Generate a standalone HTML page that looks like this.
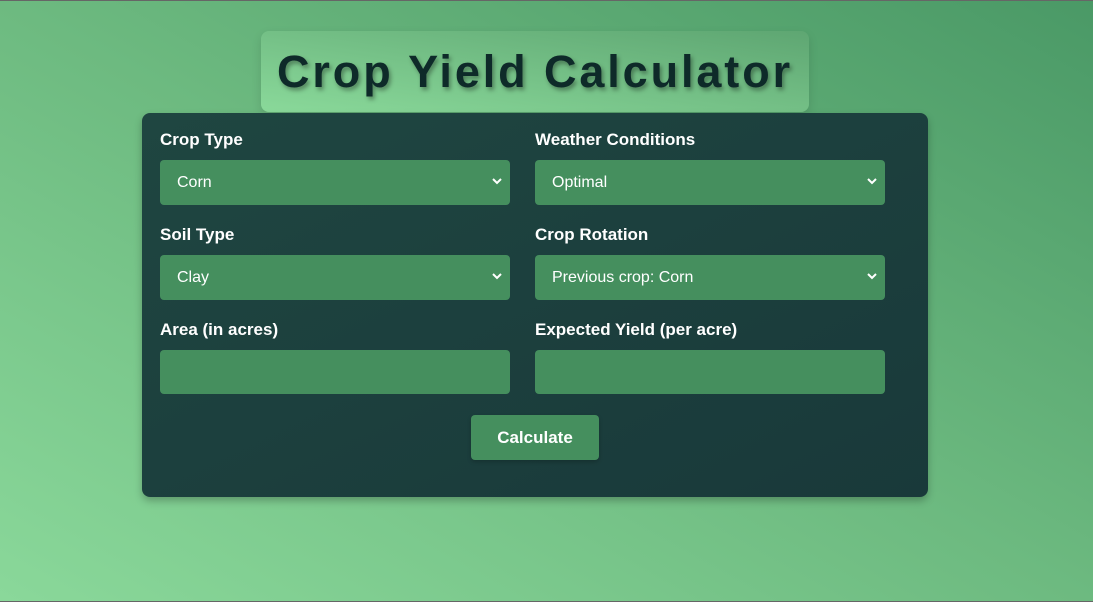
<!DOCTYPE html>
<html><head><meta charset="utf-8"><style>
*{box-sizing:border-box;margin:0;padding:0}
html,body{width:1093px;height:602px;overflow:hidden}
body{font-family:"Liberation Sans",Arial,sans-serif;background:linear-gradient(to top right,#8ad89a 0%,#6dba80 50%,#4a9966 100%);position:relative}
.bt{position:absolute;left:0;top:0;width:1093px;height:1px;background:#666}
.bb{position:absolute;left:0;bottom:0;width:1093px;height:1px;background:#666}
.title{position:absolute;left:261px;top:31px;width:548px;height:81px;border-radius:8px;background:linear-gradient(to top right,#8ad99a,#5ea672);box-shadow:0 4px 10px rgba(0,0,0,.12);text-align:center;font-size:45px;font-weight:bold;letter-spacing:2.9px;color:#0e2a29;line-height:81px;text-shadow:2px 3px 4px rgba(0,0,0,.35)}
.panel{position:absolute;left:142px;top:113px;width:786px;height:384px;border-radius:8px;background:linear-gradient(to bottom right,#1f4641,#19393a);box-shadow:0 4px 8px rgba(0,0,0,.25)}
.lbl{position:absolute;color:#fff;font-weight:bold;font-size:17px}
.field{position:absolute;width:350px;height:45px;background:#458f5e;border-radius:4px;color:#fff;font-size:16px;line-height:45px;padding-left:17px}
.field svg{position:absolute;right:8px;top:18px}
.btn{position:absolute;left:329px;top:302px;width:128px;height:45px;background:#458f5e;border-radius:4px;color:#fff;font-weight:bold;font-size:17px;text-align:center;line-height:45px;box-shadow:0 2px 4px rgba(0,0,0,.2)}
</style></head><body>
<div class="bt"></div><div class="bb"></div>
<div class="title">Crop Yield Calculator</div>
<div class="panel">
<div class="lbl" style="left:18px;top:17px">Crop Type</div>
<div class="field" style="left:18px;top:47px">Corn<svg width="10" height="7"><path d="M1 1l4 4 4-4" stroke="#fff" stroke-width="2" fill="none"/></svg></div>
<div class="lbl" style="left:393px;top:17px">Weather Conditions</div>
<div class="field" style="left:393px;top:47px">Optimal<svg width="10" height="7"><path d="M1 1l4 4 4-4" stroke="#fff" stroke-width="2" fill="none"/></svg></div>
<div class="lbl" style="left:18px;top:112px">Soil Type</div>
<div class="field" style="left:18px;top:142px">Clay<svg width="10" height="7"><path d="M1 1l4 4 4-4" stroke="#fff" stroke-width="2" fill="none"/></svg></div>
<div class="lbl" style="left:393px;top:112px">Crop Rotation</div>
<div class="field" style="left:393px;top:142px">Previous crop: Corn<svg width="10" height="7"><path d="M1 1l4 4 4-4" stroke="#fff" stroke-width="2" fill="none"/></svg></div>
<div class="lbl" style="left:18px;top:207px">Area (in acres)</div>
<div class="field" style="left:18px;top:237px;height:44px"></div>
<div class="lbl" style="left:393px;top:207px">Expected Yield (per acre)</div>
<div class="field" style="left:393px;top:237px;height:44px"></div>
<div class="btn">Calculate</div>
</div>
</body></html>
